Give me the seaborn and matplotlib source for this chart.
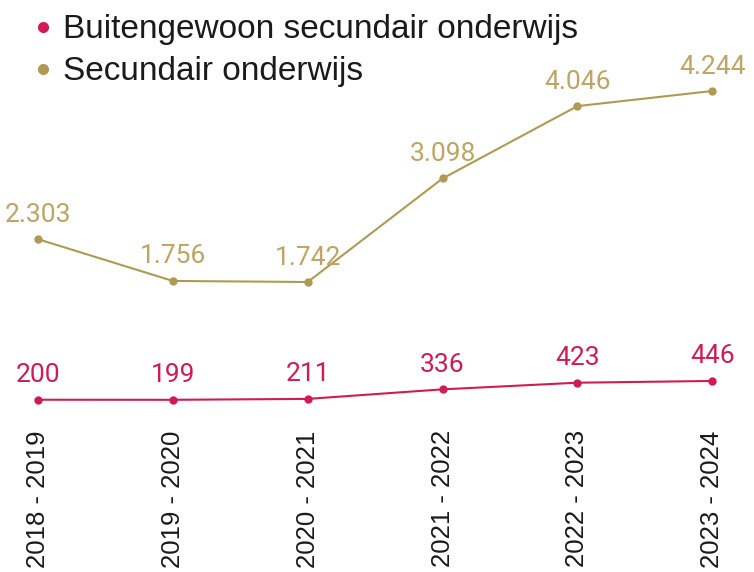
import pandas as pd
import seaborn as sns
import matplotlib.pyplot as plt
from matplotlib.lines import Line2D

years = ["2018 - 2019", "2019 - 2020", "2020 - 2021", "2021 - 2022", "2022 - 2023", "2023 - 2024"]
buitengewoon = [200, 199, 211, 336, 423, 446]
secundair = [2303, 1756, 1742, 3098, 4046, 4244]
series_names = ["Buitengewoon secundair onderwijs", "Secundair onderwijs"]

palette = {series_names[0]: "#D11B55", series_names[1]: "#B09A52"}
label_colors = {series_names[0]: "#D11B55", series_names[1]: "#BFA462"}

df = pd.DataFrame({
    "jaar": years * 2,
    "x": list(range(len(years))) * 2,
    "aantal": buitengewoon + secundair,
    "reeks": [series_names[0]] * len(years) + [series_names[1]] * len(years),
})

sns.set_theme(style="white")
plt.rcParams["font.family"] = ["Liberation Sans", "DejaVu Sans"]

fig = plt.figure(figsize=(7.54, 5.72), dpi=100)
ax = fig.add_axes([0, 157 / 572, 1, 415 / 572])

sns.lineplot(data=df, x="x", y="aantal", hue="reeks", palette=palette,
             marker="o", markersize=6, markeredgewidth=0, linewidth=1.5,
             legend=False, ax=ax)

for _, row in df.iterrows():
    txt = f"{row.aantal:,}".replace(",", ".")
    ax.annotate(txt, (row.x, row.aantal), xytext=(0, 9), textcoords="offset points",
                ha="center", va="bottom", fontsize=19, family="Roboto",
                color=label_colors[row.reeks])

ax.set_xlim(-0.282, 5.31)
ax.set_ylim(0, 5436)
ax.set_xticks(range(len(years)))
ax.set_xticklabels(years, rotation=90, fontsize=18.5, color="#1a1a1a")
ax.tick_params(axis="x", length=0, pad=11)
ax.set_yticks([])
ax.set_xlabel("")
ax.set_ylabel("")
sns.despine(ax=ax, left=True, bottom=True)

handles = [Line2D([], [], linestyle="none", marker="o", markersize=8,
                  markeredgewidth=0, color=palette[n]) for n in series_names]
fig.legend(handles, series_names, loc="upper left", bbox_to_anchor=(0.03, 0.998),
           frameon=False, fontsize=24, handlelength=0.4, handletextpad=0.4,
           labelspacing=0.33, labelcolor="#1a1a1a", borderaxespad=0)

fig.savefig("out.png", dpi=100)
